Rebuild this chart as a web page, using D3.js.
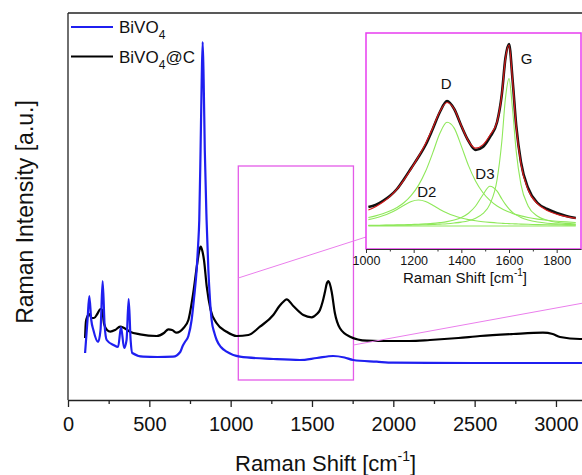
<!DOCTYPE html>
<html>
<head>
<meta charset="utf-8">
<script src="https://cdnjs.cloudflare.com/ajax/libs/d3/7.8.5/d3.min.js"></script>
<style>
body { margin: 0; background: #fff; }
svg { display: block; font-family: "Liberation Sans", Arial, sans-serif; }
</style>
</head>
<body>
<svg id="chart" width="582" height="475"></svg>
<script>
// main spectra (intensity in arbitrary units)
var blueShift = [105,120,131,143,156,185,200,213,225,238,280,308,326,345,360,373,385,395,462,550,646,690,705,719,740,760,775,791,800,807,815,822,828,834,841,852,863,873,883,900,914,940,975,1057,1262,1426,1530,1630,1700,1753,1898,2000,2500,3200];
var blueInt   = [47,80,104,80,70,58,70,119,75,60,55,53,73,52,60,101,60,47,43.3,43,43.3,48,54,58,64,80,102,130,155,180,250,320,358,320,250,180,130,100,80,67,60,53,48.3,43.3,41,40,42,44,42.5,40,38.3,37.3,37,37];

var blackShift = [105,110,120,131,145,160,180,200,210,222,240,260,290,320,345,381,443,545,590,617,640,668,709,740,770,795,808,816,826,836,853,877,914,975,1037,1109,1180,1262,1300,1324,1344,1385,1447,1498,1530,1549,1565,1580,1592,1600,1610,1621,1641,1672,1734,1836,1918,2100,2225,2400,2533,2736,2920,2980,3025,3147,3200];
var blackInt   = [62,78,84,86,82,82,86,91,90,76,70,68.3,70,73.3,72,68.3,65.7,64,67,70.7,70,67.3,71.7,80,107,137,150,153.3,149,140,113.3,90,76.7,68.3,64,65,73.3,85,94,98.3,100.7,94,85,82.7,86,90,98,108.3,117,119,116,108.3,86.7,71.7,63.3,59.3,59,59,60,62,64,66,67.3,66,63,61,61];

// inset: measured spectrum, fit and the four bands (above the fit baseline)
var insetShift = [1010,1040,1070,1100,1130,1160,1190,1220,1250,1280,1310,1340,1370,1400,1430,1460,1490,1520,1550,1570,1585,1600,1615,1630,1650,1680,1720,1760,1800,1840,1880];
var insetMeasured = [19,21,25,30,37,47,58,69,81,97,114,125,117,100,85,76,79,89,104,132,168,182,146,101,64,38,23,17,13,10,8];
var insetFit = [16.0,19.3,23.7,29.4,36.9,46.4,57.4,69.4,82.5,98.1,114.5,123.5,117.0,100.2,84.9,77.8,81.1,90.8,104.4,131.9,167.1,180.8,144.7,99.6,62.1,36.3,22.1,15.5,11.7,9.3,7.6];
var bandD2 = [6.4,8.0,10.2,13.0,16.6,20.8,24.5,26.0,24.5,20.8,16.6,13.0,10.2,8.0,6.4,5.2,4.3,3.6,3.0,2.7,2.5,2.4,2.2,2.1,1.9,1.7,1.4,1.2,1.1,0.9,0.8];
var bandD  = [8.5,10.1,12.2,14.9,18.5,23.5,30.6,40.6,54.7,73.1,92.7,103.7,97.9,79.9,60.4,44.8,33.5,25.6,20.0,17.2,15.4,13.9,12.6,11.4,10.1,8.5,6.9,5.7,4.8,4.1,3.5];
var bandD3 = [0.6,0.7,0.8,0.9,1.1,1.2,1.5,1.7,2.1,2.6,3.4,4.4,6.0,8.5,12.8,20.0,31.0,39.8,34.8,27.0,21.6,17.2,13.7,11.1,8.5,6.0,4.0,2.8,2.1,1.6,1.3];
var bandG  = [0.5,0.5,0.6,0.6,0.7,0.8,0.9,1.1,1.3,1.5,1.9,2.3,3.0,3.9,5.3,7.8,12.3,21.9,46.5,85.0,127.6,147.4,116.2,75.1,41.6,20.1,9.8,5.7,3.7,2.6,1.9];
var baseShift = [1010,1880];
var baseInt = [0,0];

var bandNames = ["D","G","D2","D3"];
var bandLabelShift = [1336,1674,1255,1499];
var bandLabelInt = [137,162,29,47];

var mainTicks = [0,500,1000,1500,2000,2500,3000];
var mainMinor = [250,750,1250,1750,2250,2750];
var insetTicks = [1000,1200,1400,1600,1800];
var insetMinor = [1100,1300,1500,1700];

var legendNames = ["BiVO","BiVO"], legendSub = ["4","4"], legendTail = ["","@C"];

var svg = d3.select("#chart");

var x = d3.scaleLinear().domain([0, 3200]).range([68, 588.5]);
var y = d3.scaleLinear().domain([0, 387]).range([400, 13]);

var line = function(xs, ys, sx, sy) {
    return d3.line()
        .x(function(d, i) { return sx(xs[i]); })
        .y(function(d, i) { return sy(ys[i]); })
        .curve(d3.curveMonotoneX)(ys);
};

// frame: left and top
svg.append("line").attr("x1", 68).attr("x2", 68).attr("y1", 13).attr("y2", 400)
    .attr("stroke", "#222").attr("stroke-width", 1.3);
svg.append("line").attr("x1", 68).attr("x2", 590).attr("y1", 13).attr("y2", 13)
    .attr("stroke", "#222").attr("stroke-width", 1.3);

// x axis
var gx = svg.append("g").attr("transform", "translate(0,400)")
    .call(d3.axisBottom(x).tickValues(mainTicks).tickFormat(d3.format("d"))
        .tickSizeInner(7).tickSizeOuter(0).tickPadding(10));
gx.attr("font-family", null).attr("font-size", 20);
gx.select(".domain").attr("stroke", "#222").attr("stroke-width", 1.3);
gx.selectAll(".tick line").attr("stroke", "#222").attr("stroke-width", 1.3);
gx.selectAll(".tick text").attr("fill", "#111");

var gxm = svg.append("g").attr("transform", "translate(0,400)")
    .call(d3.axisBottom(x).tickValues(mainMinor).tickSize(4).tickFormat(""));
gxm.select(".domain").remove();
gxm.selectAll(".tick line").attr("stroke", "#222").attr("stroke-width", 1.3);

// axis titles
var xt = svg.append("text").attr("x", 235).attr("y", 471).attr("font-size", 22).attr("fill", "#111")
    .text("Raman Shift [cm");
xt.append("tspan").attr("font-size", 14).attr("dy", -10).text("-1");
xt.append("tspan").attr("font-size", 22).attr("dy", 10).text("]");

svg.append("text").attr("transform", "translate(33,212) rotate(-90)")
    .attr("text-anchor", "middle").attr("font-size", 23).attr("fill", "#111")
    .text("Raman Intensity [a.u.]");

// zoom box and connectors
var zoomBox = { x0: 1047, x1: 1755, i0: 20, i1: 234 };
svg.append("rect")
    .attr("x", x(zoomBox.x0)).attr("y", y(zoomBox.i1))
    .attr("width", x(zoomBox.x1) - x(zoomBox.x0)).attr("height", y(zoomBox.i0) - y(zoomBox.i1))
    .attr("fill", "none").attr("stroke", "#e45be8").attr("stroke-width", 1.3);

// spectra
svg.append("path").attr("d", line(blackShift, blackInt, x, y))
    .attr("fill", "none").attr("stroke", "#000").attr("stroke-width", 2.2);
svg.append("path").attr("d", line(blueShift, blueInt, x, y))
    .attr("fill", "none").attr("stroke", "#1f1ff0").attr("stroke-width", 2.2);

// legend
var legColors = ["#1f1ff0", "#000"];
legendNames.forEach(function(n, i) {
    var ly = 27 + i * 29.5;
    svg.append("line").attr("x1", 71).attr("x2", 113).attr("y1", ly).attr("y2", ly)
        .attr("stroke", legColors[i]).attr("stroke-width", 2.2);
    var t = svg.append("text").attr("x", 119).attr("y", ly + 6).attr("font-size", 17).attr("fill", "#111").text(n);
    t.append("tspan").attr("font-size", 12).attr("dy", 6).text(legendSub[i]);
    if (legendTail[i]) t.append("tspan").attr("font-size", 17).attr("dy", -6).text(legendTail[i]);
});

// ---- inset ----
var xi = d3.scaleLinear().domain([1000, 1902]).range([366, 581]);
var yi = d3.scaleLinear().domain([-23, 193]).range([249, 33]);

// connectors from the zoom box towards the inset
svg.append("line").attr("x1", x(zoomBox.x0)).attr("y1", y(122)).attr("x2", xi(1000)).attr("y2", yi(-11))
    .attr("stroke", "#ea7eec").attr("stroke-width", 1);
svg.append("line").attr("x1", x(zoomBox.x1)).attr("y1", y(55)).attr("x2", x(3270)).attr("y2", y(100))
    .attr("stroke", "#ea7eec").attr("stroke-width", 1);

svg.append("rect").attr("x", 366).attr("y", 33).attr("width", 215).attr("height", 216)
    .attr("fill", "#fff").attr("stroke", "#e83cf0").attr("stroke-width", 1.5);

svg.append("defs").append("clipPath").attr("id", "insetClip")
    .append("rect").attr("x", 366).attr("y", 33).attr("width", 215).attr("height", 216);
var gi = svg.append("g").attr("clip-path", "url(#insetClip)");

var greens = [bandD2, bandD, bandD3, bandG];
gi.append("path").attr("d", line(baseShift, baseInt, xi, yi))
    .attr("fill", "none").attr("stroke", "#8fe85a").attr("stroke-width", 1.1);
greens.forEach(function(b) {
    gi.append("path").attr("d", line(insetShift, b, xi, yi))
        .attr("fill", "none").attr("stroke", "#8fe85a").attr("stroke-width", 1.1);
});
gi.append("path").attr("d", line(insetShift, insetMeasured, xi, yi))
    .attr("fill", "none").attr("stroke", "#111").attr("stroke-width", 2.6);
gi.append("path").attr("d", line(insetShift, insetFit, xi, yi))
    .attr("fill", "none").attr("stroke", "#d41a1a").attr("stroke-width", 1.2);

bandNames.forEach(function(n, i) {
    svg.append("text").attr("x", xi(bandLabelShift[i])).attr("y", yi(bandLabelInt[i]))
        .attr("text-anchor", "middle").attr("font-size", 15).attr("fill", "#111").text(n);
});

// inset x axis
var gix = svg.append("g").attr("transform", "translate(0,249)")
    .call(d3.axisBottom(xi).tickValues(insetTicks).tickFormat(d3.format("d"))
        .tickSizeInner(4).tickSizeOuter(0).tickPadding(3));
gix.attr("font-family", null).attr("font-size", 12.5);
gix.select(".domain").attr("stroke", "#333").attr("stroke-width", 1.2);
gix.selectAll(".tick line").attr("stroke", "#333");
gix.selectAll(".tick text").attr("fill", "#111");
var gixm = svg.append("g").attr("transform", "translate(0,249)")
    .call(d3.axisBottom(xi).tickValues(insetMinor).tickSize(2.5).tickFormat(""));
gixm.select(".domain").remove();
gixm.selectAll(".tick line").attr("stroke", "#333");

var it = svg.append("text").attr("x", 403).attr("y", 282.5).attr("font-size", 15).attr("fill", "#111")
    .text("Raman Shift [cm");
it.append("tspan").attr("font-size", 10).attr("dy", -7).text("-1");
it.append("tspan").attr("font-size", 15).attr("dy", 7).text("]");
</script>
</body>
</html>
